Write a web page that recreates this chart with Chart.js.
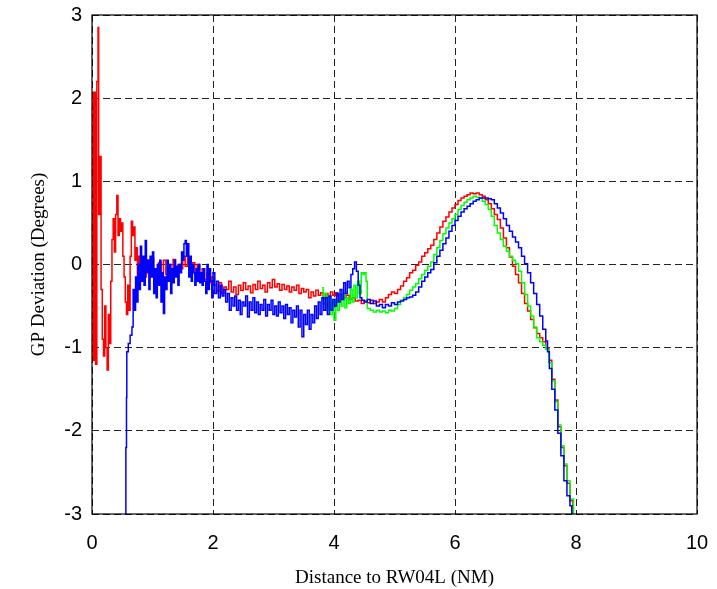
<!DOCTYPE html>
<html>
<head>
<meta charset="utf-8">
<script src="https://cdn.jsdelivr.net/npm/chart.js@4/dist/chart.umd.min.js"></script>
<style>
html,body{margin:0;padding:0;background:#fff;}
#wrap{width:717px;height:589px;position:relative;}
</style>
</head>
<body>
<div id="wrap"><canvas id="c" width="717" height="589"></canvas></div>
<script>
// Axis ticks
const xTicks = [0, 2, 4, 6, 8, 10];
const yTicks = [-3, -2, -1, 0, 1, 2, 3];

// Red series
const redX = [0.00,0.02,0.04,0.06,0.08,0.10,0.11,0.13,0.15,0.17,0.19,0.21,0.23,0.25,0.27,0.29,0.31,0.33,0.35,0.37,0.39,0.41,0.43,0.45,0.47,0.49,0.51,0.53,0.55,0.57,0.59,0.61,0.63,0.65,0.67,0.69,0.71,0.73,0.75,0.77,0.79,
0.82,0.86,0.90,0.94,0.98,1.02,1.06,1.10,1.14,1.18,1.22,1.26,1.30,1.34,1.38,1.42,1.46,1.50,1.54,1.58,1.62,1.66,1.70,1.74,1.78,1.82,1.86,1.90,1.94,1.98,
2.02,2.06,2.10,2.14,2.18,2.22,2.26,2.30,2.34,2.38,2.42,2.46,2.50,2.54,2.58,2.62,2.66,2.70,2.74,2.78,2.82,2.86,2.90,2.94,2.98,3.02,3.06,3.10,3.14,3.18,3.22,3.26,3.30,3.34,3.38,3.42,3.46,3.50,3.54,3.58,3.62,3.66,3.70,3.74,3.78,3.82,3.86,3.90,3.94,3.98,4.02,4.06,4.10,
4.15,4.20,4.25,4.30,4.35,4.40,4.45,4.50,4.55,4.60,4.65,4.70,4.75,4.80,4.85,4.90,4.95,5.00,5.05,5.10,5.15,5.20,5.25,5.30,5.35,5.40,5.45,5.50,5.55,5.60,5.65,5.70,5.75,5.80,5.85,5.90,5.95,6.00,6.05,6.10,6.15,6.20,6.25,6.30,6.35,6.40,6.45,6.50,6.55,6.60,6.65,6.70,6.75,6.80,6.85,6.90,6.95,7.00,7.05,7.10,7.15,7.20,7.25,7.30,7.35,7.40,7.45,7.50,7.55,7.60,7.65,7.70,7.75,7.80,7.85,7.90,7.95];
const redY = [2.07,-1.15,2.07,-1.2,2.2,2.85,0.6,1.3,-0.3,-0.9,-1.1,-0.5,-1.0,-1.27,-0.6,-0.95,-0.2,0.3,0.55,0.15,0.6,0.83,0.35,0.55,0.4,0.5,0.1,-0.15,-0.45,-0.6,-0.25,-0.55,0.1,0.52,0.35,0.45,0.05,0.2,-0.15,0.1,-0.1,
0.0,-0.15,0.05,-0.1,0.08,-0.05,-0.18,0.02,-0.1,0.05,-0.12,0.0,-0.08,0.06,-0.1,0.0,-0.05,0.1,-0.02,0.08,-0.1,0.02,-0.12,0.0,-0.15,-0.05,-0.18,-0.1,-0.22,-0.15,
-0.25,-0.32,-0.22,-0.35,-0.27,-0.3,-0.2,-0.33,-0.27,-0.36,-0.25,-0.31,-0.22,-0.3,-0.26,-0.34,-0.24,-0.3,-0.2,-0.29,-0.25,-0.33,-0.22,-0.28,-0.18,-0.27,-0.23,-0.31,-0.24,-0.3,-0.26,-0.33,-0.27,-0.31,-0.25,-0.35,-0.29,-0.33,-0.3,-0.4,-0.33,-0.38,-0.31,-0.37,-0.34,-0.4,-0.35,-0.39,-0.33,-0.37,-0.34,-0.38,-0.36,
-0.4,-0.37,-0.42,-0.4,-0.44,-0.43,-0.47,-0.44,-0.46,-0.43,-0.47,-0.45,-0.42,-0.45,-0.4,-0.36,-0.33,-0.35,-0.3,-0.26,-0.2,-0.16,-0.1,-0.07,-0.01,0.03,0.1,0.14,0.19,0.23,0.3,0.38,0.45,0.52,0.57,0.63,0.68,0.72,0.77,0.8,0.82,0.84,0.86,0.85,0.86,0.84,0.82,0.78,0.73,0.67,0.6,0.54,0.44,0.32,0.2,0.09,-0.02,-0.12,-0.22,-0.35,-0.47,-0.56,-0.66,-0.76,-0.83,-0.88,-0.93,-1.0,-1.15,-1.38,-1.63,-1.95,-2.2,-2.42,-2.63,-2.84,-3.0];

// Green series
const greenX = [3.80,3.82,3.85,3.88,3.91,3.94,3.97,4.00,4.03,4.06,4.09,4.12,4.15,4.18,4.21,4.24,4.27,4.30,4.33,4.36,4.39,4.42,4.45,4.48,4.50,4.53,4.55,4.60,4.65,4.70,4.75,4.80,4.85,4.90,4.95,5.00,5.05,5.10,5.15,5.20,5.25,5.30,5.35,5.40,5.45,5.50,5.55,5.60,5.65,5.70,5.75,5.80,5.85,5.90,5.95,6.00,6.05,6.10,6.15,6.20,6.25,6.30,6.35,6.40,6.45,6.50,6.55,6.60,6.65,6.70,6.75,6.80,6.85,6.90,6.95,7.00,7.05,7.10,7.15,7.20,7.25,7.30,7.35,7.40,7.45,7.50,7.55,7.60,7.65,7.70,7.75,7.80,7.85,7.90,7.96];
const greenY = [-0.28,-0.48,-0.35,-0.55,-0.4,-0.6,-0.45,-0.67,-0.42,-0.55,-0.38,-0.5,-0.35,-0.52,-0.4,-0.47,-0.3,-0.45,-0.25,-0.4,-0.2,-0.35,-0.1,-0.12,-0.1,-0.2,-0.53,-0.55,-0.57,-0.55,-0.57,-0.56,-0.58,-0.55,-0.56,-0.53,-0.48,-0.43,-0.4,-0.36,-0.31,-0.27,-0.23,-0.17,-0.12,-0.07,-0.02,0.03,0.12,0.2,0.29,0.37,0.44,0.5,0.55,0.6,0.66,0.71,0.75,0.78,0.8,0.82,0.81,0.8,0.76,0.72,0.66,0.58,0.47,0.38,0.3,0.22,0.16,0.1,0.05,0.01,-0.08,-0.22,-0.36,-0.5,-0.62,-0.75,-0.88,-0.93,-0.97,-1.02,-1.18,-1.4,-1.65,-1.93,-2.18,-2.4,-2.6,-2.82,-3.0];

// Blue series
const blueX = [0.545,0.56,0.57,0.575,0.60,0.63,0.66,0.68,0.70,0.72,0.74,0.76,0.78,0.80,0.82,0.84,0.86,0.88,0.90,0.92,0.94,0.96,0.98,1.00,1.02,1.04,1.06,1.08,1.10,1.12,1.14,1.16,1.18,1.20,1.22,1.24,1.26,1.28,1.30,1.32,1.34,1.36,1.38,1.40,1.42,1.44,1.46,1.48,1.50,1.52,1.54,1.56,1.58,1.60,1.62,1.64,1.66,1.68,1.70,1.72,1.74,1.76,1.78,1.80,1.82,1.84,1.86,1.88,1.90,1.92,1.94,1.96,1.98,
2.00,2.03,2.06,2.09,2.12,2.15,2.18,2.21,2.24,2.27,2.30,2.33,2.36,2.39,2.42,2.45,2.48,2.51,2.54,2.57,2.60,2.63,2.66,2.69,2.72,2.75,2.78,2.81,2.84,2.87,2.90,2.93,2.96,2.99,3.02,3.05,3.08,3.11,3.14,3.17,3.20,3.23,3.26,3.29,3.32,3.35,3.38,3.41,3.44,3.47,3.50,3.53,3.56,3.59,3.62,3.65,3.68,3.71,3.74,3.77,3.80,3.83,3.86,3.89,3.92,3.95,3.98,4.01,4.04,4.07,4.10,4.13,4.16,4.19,4.22,4.25,4.28,4.31,4.34,4.37,4.40,4.43,4.46,
4.50,4.55,4.60,4.65,4.70,4.75,4.80,4.85,4.90,4.95,5.00,5.05,5.10,5.15,5.20,5.25,5.30,5.35,5.40,5.45,5.50,5.55,5.60,5.65,5.70,5.75,5.80,5.85,5.90,5.95,6.00,6.05,6.10,6.15,6.20,6.25,6.30,6.35,6.40,6.45,6.50,6.55,6.60,6.65,6.70,6.75,6.80,6.85,6.90,6.95,7.00,7.05,7.10,7.15,7.20,7.25,7.30,7.35,7.40,7.45,7.50,7.53,7.56,7.60,7.65,7.70,7.75,7.80,7.85,7.90,7.93];
const blueY = [-3.0,-2.2,-1.6,-1.05,-0.95,-0.85,-0.75,-0.3,-0.55,-0.15,-0.45,0.0,-0.3,0.22,-0.2,0.1,-0.25,0.29,-0.1,0.05,-0.3,0.1,-0.15,0.15,-0.35,-0.05,-0.4,0.0,-0.25,0.05,-0.45,-0.1,-0.59,-0.15,-0.3,0.05,-0.2,0.0,-0.35,-0.05,-0.22,0.05,-0.15,-0.02,-0.25,0.0,-0.1,0.15,0.05,0.25,0.29,0.1,0.25,-0.15,0.1,-0.2,0.0,-0.1,-0.25,-0.05,-0.2,0.0,-0.22,-0.1,-0.25,-0.05,-0.2,-0.35,0.0,-0.3,-0.05,-0.2,-0.4,
-0.1,-0.35,-0.2,-0.4,-0.25,-0.38,-0.3,-0.45,-0.35,-0.55,-0.4,-0.5,-0.38,-0.55,-0.43,-0.6,-0.45,-0.5,-0.38,-0.63,-0.45,-0.55,-0.4,-0.58,-0.45,-0.6,-0.48,-0.55,-0.42,-0.62,-0.48,-0.55,-0.43,-0.6,-0.5,-0.62,-0.45,-0.58,-0.5,-0.65,-0.48,-0.6,-0.52,-0.7,-0.55,-0.63,-0.5,-0.75,-0.55,-0.87,-0.6,-0.72,-0.55,-0.78,-0.6,-0.7,-0.5,-0.65,-0.45,-0.6,-0.4,-0.55,-0.4,-0.6,-0.38,-0.55,-0.42,-0.5,-0.35,-0.45,-0.3,-0.42,-0.22,-0.35,-0.2,-0.28,-0.12,-0.05,0.03,-0.08,-0.25,-0.4,-0.43,
-0.45,-0.42,-0.47,-0.44,-0.5,-0.48,-0.52,-0.48,-0.5,-0.46,-0.48,-0.45,-0.44,-0.42,-0.4,-0.39,-0.37,-0.33,-0.27,-0.2,-0.15,-0.1,-0.06,0.02,0.1,0.17,0.25,0.32,0.4,0.47,0.53,0.58,0.63,0.67,0.7,0.73,0.76,0.78,0.8,0.8,0.8,0.79,0.78,0.73,0.68,0.62,0.55,0.47,0.4,0.33,0.27,0.2,0.1,0.01,-0.1,-0.22,-0.35,-0.48,-0.62,-0.78,-0.92,-1.05,-1.25,-1.5,-1.75,-2.03,-2.3,-2.6,-2.78,-2.9,-3.0];

function pts(xs, ys){ return xs.map((x,i)=>({x:x, y:ys[i]})); }

const framePlugin = {
  id: 'frame',
  afterDraw(chart){
    const a = chart.chartArea, ctx = chart.ctx;
    ctx.save();
    ctx.strokeStyle = '#000';
    ctx.lineWidth = 1.2;
    ctx.setLineDash([]);
    ctx.strokeRect(a.left, a.top, a.right - a.left, a.bottom - a.top);
    ctx.restore();
  }
};

const tickFont = {family: '"Liberation Sans", Arial, sans-serif', size: 20};
const titleFont = {family: '"Liberation Serif", "Times New Roman", serif', size: 19};
const gridOpts = {color: '#222', lineWidth: 1, drawTicks: false};

new Chart(document.getElementById('c'), {
  type: 'line',
  data: {
    datasets: [
      {data: pts(blueX, blueY), borderColor: '#0000ff', order: 0},
      {data: pts(greenX, greenY), borderColor: '#00ff00', order: 1},
      {data: pts(redX, redY), borderColor: '#ff0000', order: 2}
    ].map(d => Object.assign(d, {borderWidth: 1.5, pointRadius: 0, fill: false, tension: 0, stepped: true, clip: 2}))
  },
  options: {
    responsive: false,
    animation: false,
    events: [],
    layout: {padding: {left: 0, right: 20, top: 15, bottom: 0}},
    plugins: {legend: {display: false}, tooltip: {enabled: false}},
    scales: {
      x: {
        type: 'linear', min: 0, max: 10,
        afterBuildTicks: s => { s.ticks = xTicks.map(v => ({value: v})); },
        afterFit: s => { s.height = 75; s.paddingLeft = 0; s.paddingRight = 0; },
        ticks: {font: tickFont, color: '#000', padding: 17, maxRotation: 0},
        grid: gridOpts,
        border: {display: false, dash: [7,4]},
        title: {display: true, text: 'Distance to RW04L (NM)', font: titleFont, color: '#000', padding: {top: 0, bottom: 0}}
      },
      y: {
        type: 'linear', min: -3, max: 3,
        afterBuildTicks: s => { s.ticks = yTicks.map(v => ({value: v})); },
        afterFit: s => { s.width = 92; s.paddingTop = 0; s.paddingBottom = 0; },
        ticks: {font: tickFont, color: '#000', padding: 10},
        grid: gridOpts,
        border: {display: false, dash: [7,4]},
        title: {display: true, text: 'GP Deviation (Degrees)', font: titleFont, color: '#000', padding: {top: 28, bottom: 0}}
      }
    }
  },
  plugins: [framePlugin]
});
</script>
</body>
</html>
